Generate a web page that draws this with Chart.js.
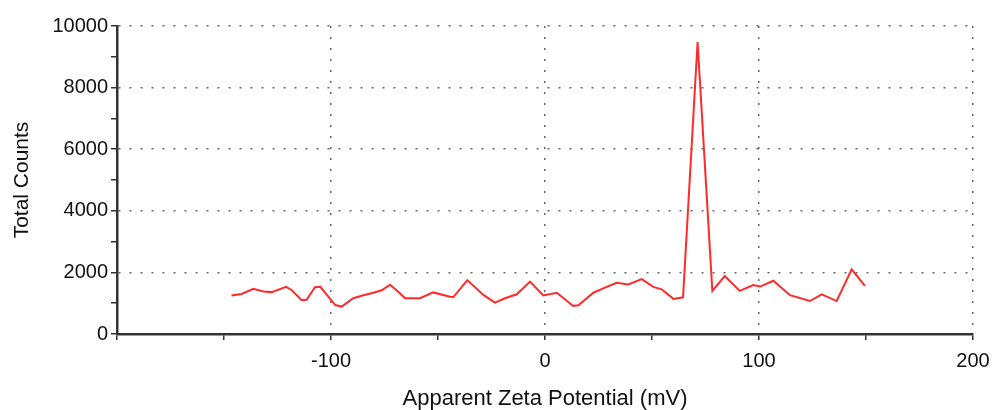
<!DOCTYPE html>
<html>
<head>
<meta charset="utf-8">
<script src="https://cdn.jsdelivr.net/npm/chart.js@4/dist/chart.umd.min.js"></script>
<style>
  html, body { margin: 0; padding: 0; background: #ffffff; }
  #wrap { width: 994px; height: 410px; }
</style>
</head>
<body>
<div id="wrap"><canvas id="zeta" width="994" height="410"></canvas></div>
<script>
// Zeta potential distribution (mV) and detected counts
const potentialMv = [
  -146.5, -141.8, -136.3, -131.6, -127.7, -121.0, -118.4, -113.7, -111.4, -107.5,
  -105.0, -98.0, -95.0, -89.6, -84.9, -80.2, -76.3, -72.4, -67.8, -65.4,
  -58.4, -52.2, -44.4, -42.8, -36.3, -28.8, -23.4, -18.7, -13.2, -7.0,
  -0.8, 5.5, 13.2, 15.6, 22.6, 27.2, 33.5, 38.9, 45.2, 50.6,
  54.5, 60.0, 64.5, 71.3, 78.2, 84.0, 91.0, 97.3, 100.5, 106.7,
  114.5, 123.8, 129.3, 136.3, 143.3, 149.5
];
const totalCounts = [
  1250, 1300, 1470, 1380, 1360, 1530, 1430, 1100, 1110, 1520,
  1530, 940, 890, 1160, 1260, 1340, 1420, 1600, 1320, 1160,
  1160, 1350, 1210, 1200, 1750, 1270, 1020, 1160, 1290, 1700,
  1250, 1340, 910, 930, 1340, 1480, 1660, 1610, 1780, 1530,
  1450, 1140, 1190, 9480, 1400, 1880, 1400, 1590, 1540, 1730,
  1260, 1070, 1290, 1070, 2100, 1560
];
const xTickLabels = ['-100', '0', '100', '200'];
const yTickLabels = ['0', '2000', '4000', '6000', '8000', '10000'];

const points = potentialMv.map((v, i) => ({ x: v, y: totalCounts[i] }));

Chart.defaults.font.family = "'Liberation Sans', Arial, sans-serif";
Chart.defaults.color = '#111111';

const dotted = [2, 9];

new Chart(document.getElementById('zeta'), {
  type: 'line',
  data: {
    datasets: [{
      data: points,
      borderColor: '#ff2a2a',
      borderWidth: 2,
      pointRadius: 0,
      tension: 0,
      fill: false
    }]
  },
  options: {
    responsive: false,
    animation: false,
    layout: { padding: { top: 26, right: 21, left: 0, bottom: 0 } },
    plugins: { legend: { display: false }, tooltip: { enabled: false } },
    scales: {
      x: {
        type: 'linear',
        min: -200,
        max: 200,
        afterFit: s => {
          s.height = 76;
          // the end labels may overhang into the page margin
          s.paddingLeft = 0;
          s.paddingRight = 0;
        },
        ticks: {
          stepSize: 50,
          autoSkip: false,
          maxRotation: 0,
          padding: 9,
          font: { size: 20 },
          color: '#111111',
          callback: v => {
            const label = String(v);
            return xTickLabels.includes(label) ? label : '';
          }
        },
        grid: {
          drawOnChartArea: true,
          tickLength: 6,
          lineWidth: 1.5,
          tickWidth: 1.5,
          tickColor: '#333333',
          color: ctx => (ctx.tick && ctx.tick.value % 100 === 0) ? '#666666' : 'rgba(0,0,0,0)'
        },
        border: { display: true, color: '#333333', width: 2.5, dash: dotted },
        title: {
          display: true,
          text: 'Apparent Zeta Potential (mV)',
          font: { size: 22, lineHeight: 1 },
          color: '#111111',
          padding: { top: 0, bottom: 0 }
        }
      },
      y: {
        type: 'linear',
        min: 0,
        max: 10000,
        afterFit: s => {
          s.width = 117;
          s.paddingTop = 0;
          s.paddingBottom = 0;
        },
        ticks: {
          stepSize: 1000,
          autoSkip: false,
          padding: 3,
          font: { size: 20 },
          color: '#111111',
          callback: v => {
            const label = String(v);
            return yTickLabels.includes(label) ? label : '';
          }
        },
        grid: {
          drawOnChartArea: true,
          tickLength: 6,
          lineWidth: 1.5,
          tickWidth: 1.5,
          tickColor: '#333333',
          color: ctx => (ctx.tick && ctx.tick.value % 2000 === 0) ? '#666666' : 'rgba(0,0,0,0)'
        },
        border: { display: true, color: '#333333', width: 2.5, dash: dotted },
        title: {
          display: true,
          text: 'Total Counts',
          font: { size: 21, lineHeight: 1 },
          color: '#111111',
          padding: { top: 12, bottom: 0 }
        }
      }
    }
  }
});
</script>
</body>
</html>
